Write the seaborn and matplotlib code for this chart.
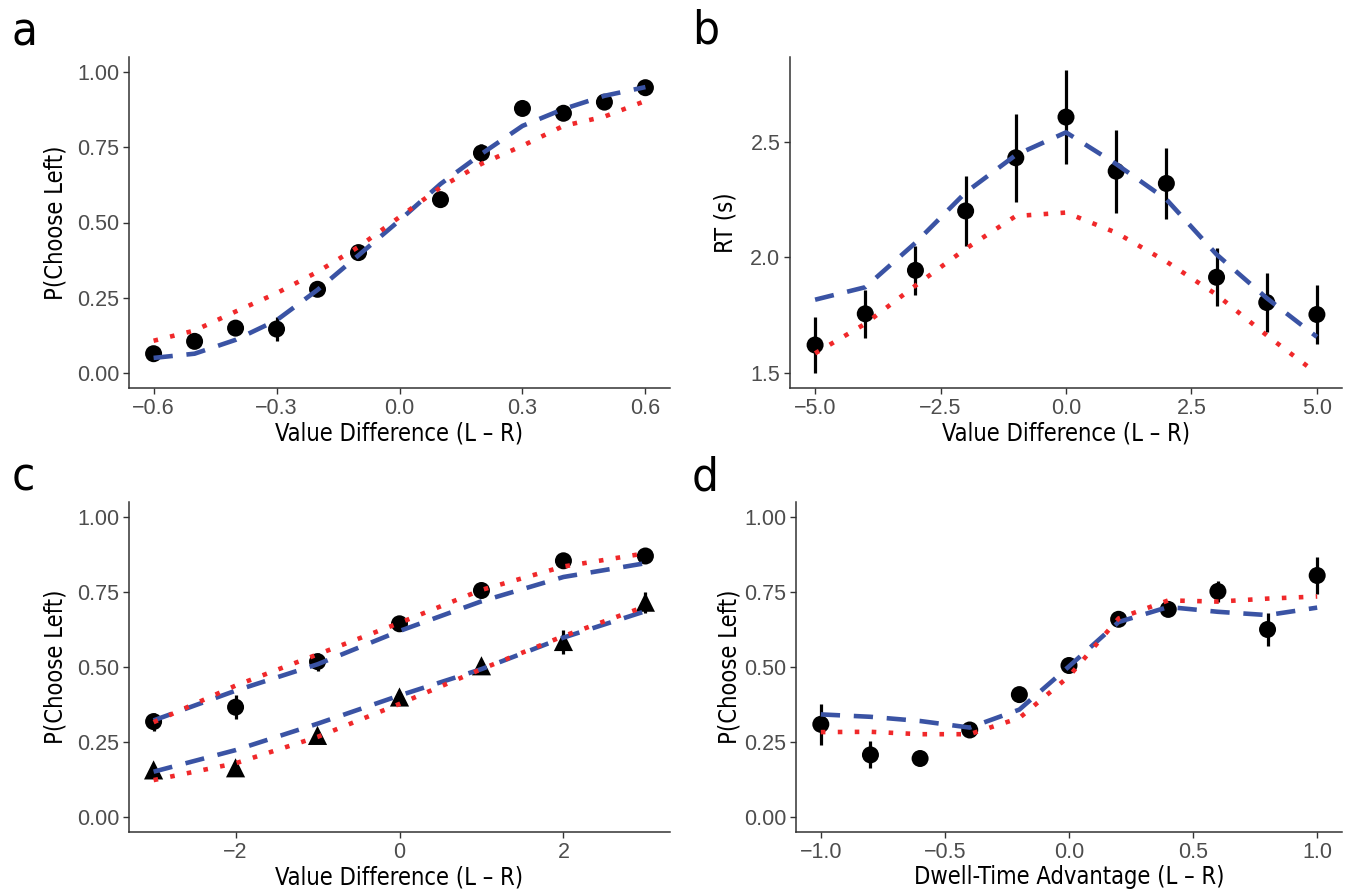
import matplotlib
matplotlib.use("Agg")
import numpy as np
import pandas as pd
import matplotlib.pyplot as plt
import seaborn as sns
from matplotlib import font_manager
from matplotlib.ticker import FixedLocator, FuncFormatter

# ---------------------------------------------------------------- data
# (a) choice probability vs value difference
a_x = [-0.6, -0.5, -0.4, -0.3, -0.2, -0.1, 0.1, 0.2, 0.3, 0.4, 0.5, 0.6]
a_obs = [0.064, 0.105, 0.149, 0.146, 0.278, 0.400, 0.576, 0.731, 0.879, 0.863, 0.900, 0.948]
a_sem = [0.010, 0.014, 0.020, 0.040, 0.012, 0.015, 0.012, 0.030, 0.020, 0.012, 0.012, 0.010]
a_model_x = [-0.6, -0.5, -0.4, -0.3, -0.2, -0.1, 0.0, 0.1, 0.2, 0.3, 0.4, 0.5, 0.6]
a_model_1 = [0.050, 0.064, 0.110, 0.175, 0.276, 0.391, 0.507, 0.628, 0.728, 0.821, 0.877, 0.921, 0.950]
a_model_2 = [0.107, 0.141, 0.204, 0.265, 0.336, 0.419, 0.518, 0.617, 0.695, 0.755, 0.821, 0.852, 0.904]

# (b) response time vs value difference
b_x = [-5, -4, -3, -2, -1, 0, 1, 2, 3, 4, 5]
b_obs = [1.620, 1.755, 1.943, 2.200, 2.430, 2.606, 2.372, 2.319, 1.913, 1.804, 1.752]
b_sem = [0.120, 0.105, 0.105, 0.150, 0.190, 0.205, 0.180, 0.152, 0.125, 0.126, 0.128]
b_model_1 = [1.816, 1.870, 2.062, 2.280, 2.442, 2.540, 2.403, 2.250, 2.012, 1.823, 1.655]
b_model_2 = [1.584, 1.712, 1.877, 2.036, 2.178, 2.193, 2.106, 1.981, 1.838, 1.662, 1.497]

# (c) choice probability split by condition (circles / triangles)
c_x = [-3, -2, -1, 0, 1, 2, 3]
c_obs_circle = [0.318, 0.366, 0.518, 0.644, 0.755, 0.854, 0.870]
c_sem_circle = [0.030, 0.040, 0.030, 0.012, 0.012, 0.010, 0.010]
c_obs_triangle = [0.157, 0.164, 0.272, 0.400, 0.504, 0.585, 0.716]
c_sem_triangle = [0.010, 0.010, 0.012, 0.015, 0.020, 0.040, 0.035]
c_model_1_circle = [0.322, 0.421, 0.509, 0.620, 0.719, 0.800, 0.846]
c_model_2_circle = [0.316, 0.438, 0.542, 0.647, 0.757, 0.835, 0.879]
c_model_1_triangle = [0.151, 0.223, 0.311, 0.405, 0.493, 0.598, 0.686]
c_model_2_triangle = [0.123, 0.179, 0.267, 0.377, 0.493, 0.603, 0.702]

# (d) choice probability vs dwell-time advantage
d_x = [-1.0, -0.8, -0.6, -0.4, -0.2, 0.0, 0.2, 0.4, 0.6, 0.8, 1.0]
d_obs = [0.309, 0.207, 0.195, 0.290, 0.408, 0.505, 0.659, 0.692, 0.752, 0.625, 0.805]
d_sem = [0.068, 0.045, 0.015, 0.015, 0.015, 0.015, 0.012, 0.015, 0.035, 0.055, 0.063]
d_model_1 = [0.342, 0.334, 0.320, 0.298, 0.358, 0.502, 0.650, 0.700, 0.684, 0.673, 0.698]
d_model_2 = [0.283, 0.284, 0.276, 0.276, 0.330, 0.469, 0.662, 0.722, 0.718, 0.728, 0.735]

# ---------------------------------------------------------------- style
sns.set_theme(style="ticks")
names = {f.name for f in font_manager.fontManager.ttflist}
TICK_FAMILY = ["Liberation Sans", "DejaVu Sans"]
if "Liberation Sans Narrow" in names:
    TITLE_FONT = dict(family=["Liberation Sans Narrow", "DejaVu Sans"])
else:
    TITLE_FONT = dict(family=["DejaVu Sans"], stretch="condensed")
plt.rcParams["font.family"] = TICK_FAMILY
plt.rcParams["axes.unicode_minus"] = True

BLUE = "#3A53A4"
RED = "#F0282A"
INK = "#333333"
TICK_LABEL = "#4D4D4D"
MODEL_1_STYLE = dict(color=BLUE, linewidth=3.3, linestyle=(0, (4.2, 3.0)), zorder=4)
MODEL_2_STYLE = dict(color=RED, linewidth=3.3, linestyle=(0, (1.0, 2.7)), zorder=5)

W, H = 1345, 891
fig = plt.figure(figsize=(W / 100, H / 100), dpi=100)


def axes_at(left, top, right, bottom):
    return fig.add_axes([left / W, 1 - bottom / H, (right - left) / W, (bottom - top) / H])


def style_axes(ax, xlim, ylim, xticks, yticks, xfmt, yfmt, xlabel, ylabel, ylab_x):
    ax.set_xlim(*xlim)
    ax.set_ylim(*ylim)
    ax.xaxis.set_major_locator(FixedLocator(xticks))
    ax.yaxis.set_major_locator(FixedLocator(yticks))
    ax.xaxis.set_major_formatter(FuncFormatter(lambda v, p: (xfmt.format(v)).replace("-", "\u2212")))
    ax.yaxis.set_major_formatter(FuncFormatter(lambda v, p: (yfmt.format(v)).replace("-", "\u2212")))
    sns.despine(ax=ax)
    for side in ("left", "bottom"):
        ax.spines[side].set_color(INK)
        ax.spines[side].set_linewidth(1.1)
    ax.tick_params(axis="both", length=4, width=1.0, color=INK, labelsize=15.5,
                   labelcolor=TICK_LABEL, pad=3)
    ax.set_xlabel(xlabel, fontsize=17, color="black", **TITLE_FONT)
    ax.set_ylabel(ylabel, fontsize=17, color="black", **TITLE_FONT)
    ax.xaxis.set_label_coords(0.5, -0.10)
    ax.yaxis.set_label_coords(ylab_x, 0.5)
    ax.grid(False)


def observed(ax, x, y, sem, marker="o", size=150):
    df = pd.DataFrame({"x": x, "y": y, "sem": sem})
    ax.vlines(df["x"], df["y"] - df["sem"], df["y"] + df["sem"], color="black",
              linewidth=2.3, zorder=2)
    sns.scatterplot(data=df, x="x", y="y", marker=marker, s=size, color="black",
                    edgecolor="none", linewidth=0, legend=False, ax=ax, zorder=3)


def model(ax, x, y, style):
    df = pd.DataFrame({"x": x, "y": y})
    sns.lineplot(data=df, x="x", y="y", estimator=None, sort=True, ax=ax, **style)


# ---------------------------------------------------------------- panel a
ax_a = axes_at(129, 57, 670, 388)
observed(ax_a, a_x, a_obs, a_sem)
model(ax_a, a_model_x, a_model_1, MODEL_1_STYLE)
model(ax_a, a_model_x, a_model_2, MODEL_2_STYLE)
style_axes(ax_a, (-0.66, 0.66), (-0.05, 1.05), [-0.6, -0.3, 0.0, 0.3, 0.6],
           [0, 0.25, 0.5, 0.75, 1.0], "{:.1f}", "{:.2f}",
           "Value Difference (L \u2013 R)", "P(Choose Left)", -0.1146)

# ---------------------------------------------------------------- panel b
ax_b = axes_at(790, 57, 1342, 388)
observed(ax_b, b_x, b_obs, b_sem)
model(ax_b, b_x, b_model_1, MODEL_1_STYLE)
model(ax_b, b_x, b_model_2, MODEL_2_STYLE)
style_axes(ax_b, (-5.5, 5.5), (1.434, 2.866), [-5, -2.5, 0, 2.5, 5],
           [1.5, 2.0, 2.5], "{:.1f}", "{:.1f}",
           "Value Difference (L \u2013 R)", "RT (s)", -0.096)

# ---------------------------------------------------------------- panel c
ax_c = axes_at(129, 502, 670, 832)
observed(ax_c, c_x, c_obs_circle, c_sem_circle)
observed(ax_c, c_x, c_obs_triangle, c_sem_triangle, marker="^", size=190)
model(ax_c, c_x, c_model_1_circle, MODEL_1_STYLE)
model(ax_c, c_x, c_model_1_triangle, MODEL_1_STYLE)
model(ax_c, c_x, c_model_2_circle, MODEL_2_STYLE)
model(ax_c, c_x, c_model_2_triangle, MODEL_2_STYLE)
style_axes(ax_c, (-3.3, 3.3), (-0.05, 1.05), [-2, 0, 2],
           [0, 0.25, 0.5, 0.75, 1.0], "{:.0f}", "{:.2f}",
           "Value Difference (L \u2013 R)", "P(Choose Left)", -0.1146)

# ---------------------------------------------------------------- panel d
ax_d = axes_at(796, 502, 1342, 832)
observed(ax_d, d_x, d_obs, d_sem)
model(ax_d, d_x, d_model_1, MODEL_1_STYLE)
model(ax_d, d_x, d_model_2, MODEL_2_STYLE)
style_axes(ax_d, (-1.1, 1.1), (-0.05, 1.05), [-1.0, -0.5, 0.0, 0.5, 1.0],
           [0, 0.25, 0.5, 0.75, 1.0], "{:.1f}", "{:.2f}",
           "Dwell-Time Advantage (L \u2013 R)", "P(Choose Left)", -0.099)

# ---------------------------------------------------------------- panel letters
for letter, (px, py) in zip("abcd", [(12, 45), (692, 43), (12, 490), (692, 490)]):
    fig.text(px / W, 1 - py / H, letter, fontsize=34, color="black",
             ha="left", va="baseline", **TITLE_FONT)

fig.savefig("out.png", dpi=100, facecolor="white")
